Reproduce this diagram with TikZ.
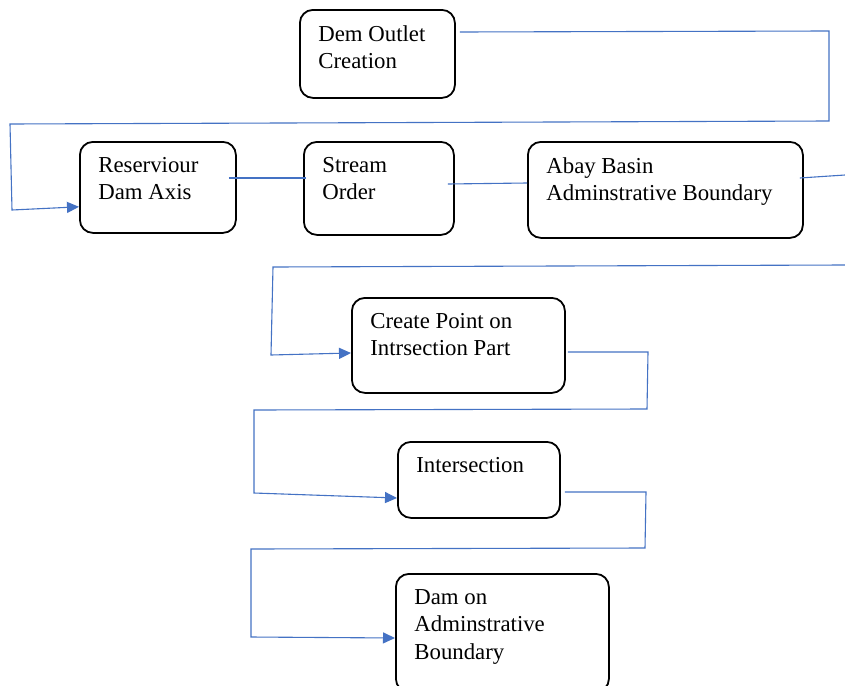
\documentclass[tikz,border=0pt]{standalone}
\usepackage{fontspec}
\setmainfont{Liberation Serif}
\usetikzlibrary{arrows.meta,calc}
\definecolor{wordblue}{HTML}{4472C4}
\newdimen\pxu \pxu=0.5pt
\tikzset{
  box/.style={draw=black, line width=0.9pt, rounded corners=6.5pt, anchor=north west, inner sep=0pt},
  boxtext/.style={anchor=north west, inner sep=0pt, align=left, font=\fontsize{11.4}{13.7}\selectfont},
  link/.style={draw=wordblue, line width=0.55pt},
  flow/.style={link, -{Triangle[length=6pt,width=5.5pt]}},
}
\begin{document}
\begin{tikzpicture}[x=0.5pt, y=-0.5pt]
  \useasboundingbox[fill=white] (0,0) rectangle (845,685);
  \clip (0,0) rectangle (845,685);
  % boxes and their text
  \foreach \nm/\x/\y/\w/\h/\txt in {
      dem/299/9/155/88/{Dem Outlet\\Creation},
      res/79/141/156/91/{Reserviour\\Dam Axis},
      stream/303/141/150/93/{Stream\\Order},
      abay/527/141/275/96/{Abay Basin\\Adminstrative Boundary},
      cpoint/351/297/213/95/{Create Point on\\Intrsection Part},
      inter/397/441/162/76/{Intersection},
      damab/395/573/213/118/{Dam on\\Adminstrative\\Boundary}} {
    \node[box, minimum width=\w\pxu, minimum height=\h\pxu] (\nm) at (\x,\y) {};
    \node[boxtext] (\nm-t) at ($(\nm.north west)+(19,16)$) {\txt};
  }
  % bends of the connectors
  \coordinate (a1) at (829,31);
  \coordinate (a2) at (829,121);
  \coordinate (a3) at (10,124);
  \coordinate (a4) at (12,210);
  \coordinate (e4) at (845,175);
  \coordinate (b0) at (845,265);
  \coordinate (b1) at (273,267);
  \coordinate (b2) at (271,355);
  \coordinate (c1) at (648,352);
  \coordinate (c2) at (647,409);
  \coordinate (c3) at (254,410);
  \coordinate (c4) at (254,493);
  \coordinate (d1) at (646,492);
  \coordinate (d2) at (645,548);
  \coordinate (d3) at (251,549);
  \coordinate (d4) at (251,637);
  % connectors
  \draw[flow] ($(dem.north east)+(4,23)$) -- (a1) -- (a2) -- (a3) -- (a4) -- ($(res.south west)+(0,-27)$);
  \draw[link] ($(res.north east)+(-8,37)$) -- ($(stream.north west)+(3,37)$);
  \draw[link] ($(stream.north east)+(-7,43)$) -- ($(abay.north west)+(0,42)$);
  \draw[link] ($(abay.north east)+(-4,37)$) -- (e4);
  \draw[flow] (b0) -- (b1) -- (b2) -- ($(cpoint.north west)+(0,56)$);
  \draw[flow] ($(cpoint.north east)+(2,55)$) -- (c1) -- (c2) -- (c3) -- (c4) -- ($(inter.north west)+(0,57)$);
  \draw[flow] ($(inter.north east)+(4,51)$) -- (d1) -- (d2) -- (d3) -- (d4) -- ($(damab.north west)+(0,65)$);
\end{tikzpicture}
\end{document}
